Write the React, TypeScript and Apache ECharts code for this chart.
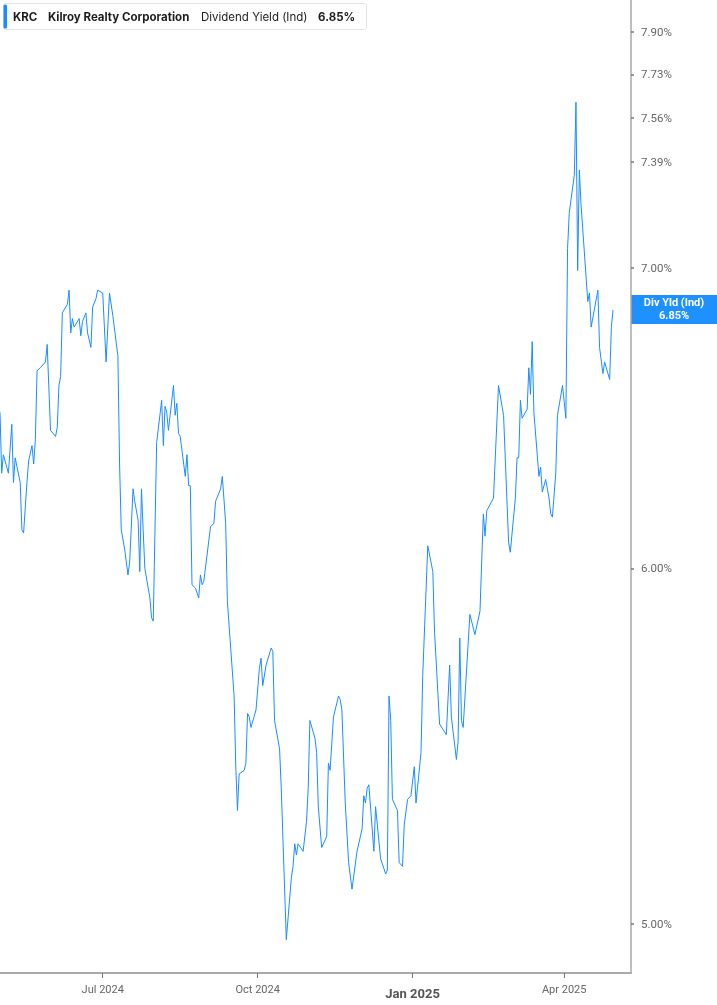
import React, { useEffect, useRef } from "react";
import * as echarts from "echarts";

const dates = [
  "2024-05-01","2024-05-02","2024-05-03","2024-05-06","2024-05-08","2024-05-09","2024-05-10","2024-05-13","2024-05-14","2024-05-15",
  "2024-05-17","2024-05-18","2024-05-20","2024-05-21","2024-05-22","2024-05-23","2024-05-25","2024-05-28","2024-05-29","2024-05-31",
  "2024-06-03","2024-06-04","2024-06-05","2024-06-06","2024-06-07","2024-06-10","2024-06-11","2024-06-12","2024-06-13","2024-06-14",
  "2024-06-17","2024-06-18","2024-06-19","2024-06-21","2024-06-22","2024-06-24","2024-06-25","2024-06-27","2024-06-28","2024-07-01",
  "2024-07-03","2024-07-05","2024-07-07","2024-07-10","2024-07-11","2024-07-12","2024-07-14","2024-07-16","2024-07-17","2024-07-19",
  "2024-07-20","2024-07-22","2024-07-23","2024-07-24","2024-07-25","2024-07-26","2024-07-29","2024-07-30","2024-07-31","2024-08-02",
  "2024-08-05","2024-08-06","2024-08-07","2024-08-08","2024-08-09","2024-08-12","2024-08-13","2024-08-14","2024-08-15","2024-08-16",
  "2024-08-19","2024-08-20","2024-08-21","2024-08-22","2024-08-23","2024-08-25","2024-08-27","2024-08-28","2024-08-29","2024-08-30",
  "2024-09-03","2024-09-05","2024-09-06","2024-09-09","2024-09-10","2024-09-12","2024-09-13","2024-09-17","2024-09-18","2024-09-19",
  "2024-09-20","2024-09-23","2024-09-24","2024-09-25","2024-09-26","2024-09-27","2024-09-30","2024-10-02","2024-10-03","2024-10-04",
  "2024-10-06","2024-10-09","2024-10-10","2024-10-11","2024-10-14","2024-10-15","2024-10-18","2024-10-21","2024-10-22","2024-10-23",
  "2024-10-24","2024-10-25","2024-10-28","2024-10-30","2024-10-31","2024-11-01","2024-11-04","2024-11-05","2024-11-06","2024-11-08",
  "2024-11-11","2024-11-12","2024-11-13","2024-11-15","2024-11-18","2024-11-19","2024-11-20","2024-11-22","2024-11-24","2024-11-26",
  "2024-11-29","2024-12-02","2024-12-03","2024-12-04","2024-12-05","2024-12-06","2024-12-09","2024-12-10","2024-12-13","2024-12-16",
  "2024-12-17","2024-12-18","2024-12-19","2024-12-20","2024-12-23","2024-12-24","2024-12-26","2024-12-27","2024-12-29","2024-12-31",
  "2025-01-02","2025-01-03","2025-01-06","2025-01-07","2025-01-10","2025-01-13","2025-01-14","2025-01-17","2025-01-21","2025-01-23",
  "2025-01-24","2025-01-27","2025-01-28","2025-01-29","2025-01-30","2025-01-31","2025-02-04","2025-02-07","2025-02-10","2025-02-12",
  "2025-02-13","2025-02-14","2025-02-18","2025-02-21","2025-02-24","2025-02-27","2025-02-28","2025-03-03","2025-03-04","2025-03-05",
  "2025-03-06","2025-03-07","2025-03-10","2025-03-11","2025-03-12","2025-03-13","2025-03-14","2025-03-17","2025-03-18","2025-03-19",
  "2025-03-21","2025-03-23","2025-03-24","2025-03-25","2025-03-27","2025-03-28","2025-03-31","2025-04-02","2025-04-03","2025-04-04",
  "2025-04-07","2025-04-08","2025-04-09","2025-04-10","2025-04-11","2025-04-15","2025-04-16","2025-04-17","2025-04-21","2025-04-22",
  "2025-04-24","2025-04-25","2025-04-28","2025-04-29","2025-04-30"
];

const yields = [
  6.50,6.30,6.36,6.30,6.46,6.27,6.35,6.27,6.12,6.11,
  6.27,6.34,6.39,6.33,6.41,6.64,6.65,6.67,6.73,6.44,
  6.42,6.45,6.59,6.62,6.84,6.87,6.92,6.77,6.82,6.79,
  6.82,6.76,6.81,6.84,6.77,6.72,6.86,6.89,6.92,6.91,
  6.67,6.91,6.83,6.69,6.33,6.12,6.06,5.98,6.02,6.25,
  6.21,6.15,5.99,6.25,6.12,6.00,5.91,5.85,5.84,6.40,
  6.54,6.39,6.52,6.50,6.44,6.59,6.49,6.53,6.43,6.42,
  6.29,6.36,6.26,6.26,5.95,5.94,5.91,5.98,5.95,5.96,
  6.13,6.14,6.21,6.25,6.29,6.14,5.90,5.62,5.42,5.30,
  5.40,5.41,5.43,5.57,5.56,5.53,5.58,5.70,5.73,5.65,
  5.71,5.76,5.75,5.55,5.47,5.36,4.96,5.12,5.15,5.21,
  5.18,5.21,5.19,5.27,5.36,5.55,5.50,5.46,5.31,5.20,
  5.23,5.43,5.41,5.56,5.62,5.61,5.58,5.32,5.16,5.09,
  5.19,5.25,5.34,5.32,5.36,5.37,5.19,5.31,5.17,5.13,
  5.14,5.62,5.55,5.33,5.30,5.16,5.15,5.26,5.33,5.34,
  5.42,5.32,5.46,5.68,6.07,5.99,5.81,5.54,5.51,5.71,
  5.56,5.44,5.49,5.79,5.55,5.53,5.86,5.80,5.87,6.17,
  6.10,6.18,6.22,6.59,6.49,6.08,6.05,6.22,6.35,6.35,
  6.54,6.48,6.51,6.65,6.56,6.74,6.50,6.29,6.32,6.24,
  6.28,6.22,6.17,6.16,6.30,6.49,6.59,6.48,7.07,7.20,
  7.34,7.62,6.99,7.36,7.23,6.88,6.91,6.79,6.92,6.72,
  6.63,6.67,6.61,6.79,6.85
];

const yTickValues = [5.0, 6.0, 7.0, 7.39, 7.56, 7.73, 7.9];
const xTickDates = ["2024-07-01", "2024-10-01", "2025-01-01", "2025-04-01"];
const monthNames = ["Jan","Feb","Mar","Apr","May","Jun","Jul","Aug","Sep","Oct","Nov","Dec"];
const ticker = "KRC";
const company = "Kilroy Realty Corporation";
const metric = "Dividend Yield (Ind)";
const shortMetric = "Div Yld (Ind)";

const parseDate = (s: string) => {
  const [d, t] = s.split(" ");
  const [y, m, day] = d.split("-").map(Number);
  let h = 0;
  if (t) h = Number(t.split(":")[0]);
  return new Date(y, m - 1, day, h).getTime();
};

const BLUE = "#1a8cff";

export default function App() {
  const ref = useRef<HTMLDivElement>(null);
  useEffect(() => {
    if (!ref.current) return;
    const chart = echarts.init(ref.current, null, { renderer: "svg" });
    const last = yields[yields.length - 1];
    const xTicks = xTickDates.map(parseDate);
    const yTicks = yTickValues.map((v) => Math.log(v));
    const option: any = {
      animation: false,
      grid: { left: 0, right: 86, top: 0, bottom: 32 },
      xAxis: {
        type: "value",
        scale: true,
        min: parseDate("2024-05-01"),
        max: parseDate("2025-05-10 16:00"),
        axisLine: { show: true, onZero: false, lineStyle: { color: "#a9a9a9", width: 2 } },
        axisTick: {
          show: true,
          length: 5,
          customValues: xTicks,
          lineStyle: { color: "#777", width: 1 },
        },
        axisLabel: {
          customValues: xTicks,
          margin: 11,
          fontFamily: "Roboto",
          fontSize: 11,
          color: "#666",
          formatter: (v: number) => {
            const d = new Date(v);
            const s = monthNames[d.getMonth()] + " " + d.getFullYear();
            return d.getMonth() === 0 ? "{b|" + s + "}" : s;
          },
          rich: {
            b: { fontFamily: "Roboto", fontSize: 13, fontWeight: "bold", color: "#555", padding: [3, 0, 0, 0] },
          },
        },
        splitLine: { show: false },
      },
      yAxis: {
        type: "value",
        position: "right",
        scale: true,
        min: Math.log(4.876),
        max: Math.log(8.03),
        axisLine: { show: true, onZero: false, lineStyle: { color: "#a9a9a9", width: 1.5 } },
        axisTick: {
          show: true,
          length: 3,
          customValues: yTicks,
          lineStyle: { color: "#777", width: 1.5 },
        },
        axisLabel: {
          customValues: yTicks,
          margin: 10,
          fontFamily: "Roboto",
          fontSize: 11.5,
          color: "#666",
          formatter: (v: number) => Math.exp(v).toFixed(2) + "%",
        },
        splitLine: { show: false },
      },
      series: [
        {
          type: "line",
          data: dates.map((d, i) => [parseDate(d), Math.log(yields[i])]),
          showSymbol: false,
          lineStyle: { color: BLUE, width: 1 },
          clip: true,
        },
      ],
    };
    chart.setOption(option);
    const yPix = chart.convertToPixel({ yAxisIndex: 0 }, Math.log(last)) as number;
    const font = "Inter";
    chart.setOption({
      graphic: [
        {
          type: "rect",
          shape: { x: 3.5, y: 3.5, width: 363, height: 26, r: 2 },
          style: { fill: "#fff", stroke: "#e4e4e4", lineWidth: 1 },
        },
        {
          type: "rect",
          shape: { x: 3.5, y: 4.5, width: 3.5, height: 24, r: 1.5 },
          style: { fill: BLUE },
        },
        { type: "text", x: 13, y: 17, style: { text: ticker, fill: "#1c1c1c", font: "bold 11.5px " + font, textVerticalAlign: "middle" } },
        { type: "text", x: 48, y: 17, style: { text: company, fill: "#1c1c1c", font: "bold 11.5px " + font, textVerticalAlign: "middle" } },
        { type: "text", x: 201, y: 17, style: { text: metric, fill: "#1c1c1c", font: "11.5px " + font, textVerticalAlign: "middle" } },
        { type: "text", x: 318, y: 17, style: { text: last.toFixed(2) + "%", fill: "#1c1c1c", font: "bold 11.5px " + font, textVerticalAlign: "middle" } },
        {
          type: "rect",
          shape: { x: 631, y: yPix - 15, width: 86, height: 29 },
          style: { fill: "#1e90ff" },
        },
        { type: "text", x: 674, y: yPix - 7, style: { text: shortMetric, fill: "#fff", font: "bold 11px Roboto", textAlign: "center", textVerticalAlign: "middle" } },
        { type: "text", x: 674, y: yPix + 6, style: { text: last.toFixed(2) + "%", fill: "#fff", font: "bold 11px Roboto", textAlign: "center", textVerticalAlign: "middle" } },
      ],
    });
    return () => chart.dispose();
  }, []);
  return <div ref={ref} style={{ position: "fixed", left: 0, top: 0, width: 717, height: 1005 }} />;
}
